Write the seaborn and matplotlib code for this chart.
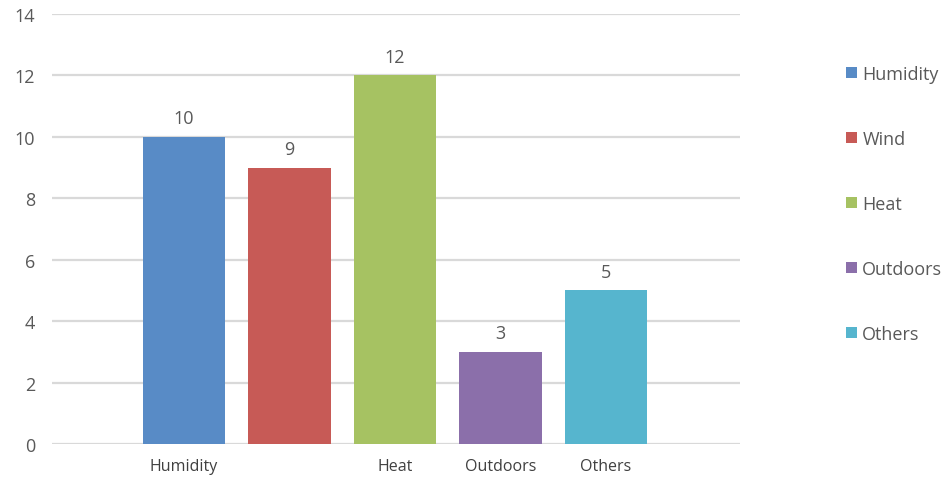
import matplotlib
matplotlib.use("Agg")
import matplotlib.pyplot as plt
import seaborn as sns
import pandas as pd
from matplotlib.patches import Patch

categories = ["Humidity", "Wind", "Heat", "Outdoors", "Others"]
values = [10, 9, 12, 3, 5]
tick_labels = ["Humidity", "", "Heat", "Outdoors", "Others"]
colors = ["#588BC6", "#C75A56", "#A6C262", "#8B6FAA", "#56B5CE"]
y_ticks = [0, 2, 4, 6, 8, 10, 12, 14]

sns.set_theme(style="white")
plt.rcParams["font.family"] = ["Open Sans", "DejaVu Sans"]
text_color = "#595959"

df = pd.DataFrame({"category": categories, "value": values})

fig = plt.figure(figsize=(9.47, 4.81), dpi=100)
ax = fig.add_axes([52 / 947, (481 - 445) / 481, (740 - 52) / 947, 430 / 481])

sns.barplot(data=df, x="category", y="value", hue="category",
            palette=colors, width=0.78, legend=False, ax=ax,
            saturation=1, linewidth=0)

ax.set_ylim(0, 14)
ax.set_xlim(-1.25, 5.27)
ax.set_yticks(y_ticks)
ax.set_xticks(range(len(categories)))
ax.set_xticklabels(tick_labels)
for y in y_ticks:
    ax.axhline(y, color="#D9D9D9", linewidth=1.6, zorder=0)

ax.tick_params(axis="y", length=0, pad=12, labelsize=13, labelcolor=text_color)
ax.tick_params(axis="x", length=0, pad=10, labelsize=11.5, labelcolor="#404040")
ax.set_xlabel("")
ax.set_ylabel("")
for s in ax.spines.values():
    s.set_visible(False)

for container in ax.containers:
    ax.bar_label(container, padding=7, fontsize=13, color=text_color)

handles = [Patch(facecolor=c, edgecolor="none") for c in colors]
fig.legend(handles, categories, loc="upper left",
           bbox_to_anchor=(846 / 947, 1 - 66 / 481), frameon=False,
           fontsize=13, labelcolor=text_color, labelspacing=2.6,
           handlelength=0.6, handleheight=0.6, handletextpad=0.3,
           borderaxespad=0, borderpad=0)

fig.savefig("out.png", dpi=100)
